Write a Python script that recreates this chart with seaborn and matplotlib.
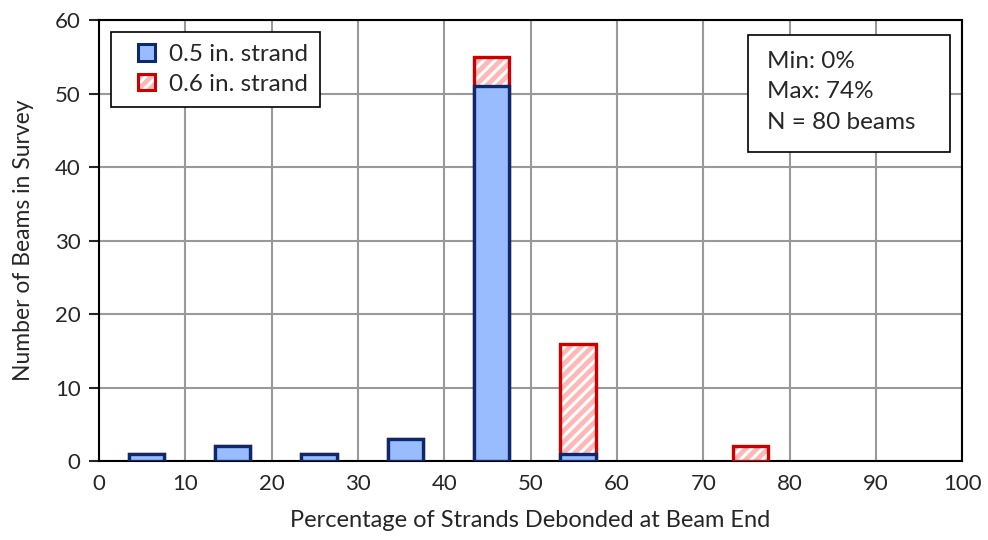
import matplotlib
matplotlib.use("Agg")
import matplotlib.pyplot as plt
import seaborn as sns
import pandas as pd
from matplotlib.patches import Patch, Rectangle
from matplotlib.legend_handler import HandlerTuple, HandlerPatch

# percentage of strands debonded (bar positions) and beam counts
pct = [5.5, 15.5, 25.5, 35.5, 45.5, 55.5, 75.5]
n_05 = [1, 2, 1, 3, 51, 1, 0]
n_06 = [0, 0, 0, 0, 4, 15, 2]

df = pd.DataFrame({"pct": pct, "s05": n_05, "s06": n_06})
df["total"] = df["s05"] + df["s06"]

sns.set_theme(style="white")
plt.rcParams["font.family"] = ["Lato", "DejaVu Sans"]
plt.rcParams["hatch.linewidth"] = 2.2

blue_face = "#99bbff"
blue_edge = "#0b2a6e"
red_face = "#ffb8b8"
red_edge = "#cc0000"

fig, ax = plt.subplots(figsize=(9.88, 5.4), dpi=100)

# stacked total (red, hatched) drawn first, blue 0.5 in. bars on top
sns.barplot(data=df, x="pct", y="total", native_scale=True, width=0.41,
            color=red_face, saturation=1, edgecolor="white", hatch="///",
            linewidth=0, ax=ax, zorder=3)
sns.barplot(data=df, x="pct", y="total", native_scale=True, width=0.41,
            color="none", saturation=1, edgecolor=red_edge, fill=False,
            linewidth=2.4, ax=ax, zorder=4)
d05 = df[df["s05"] > 0]
sns.barplot(data=d05, x="pct", y="s05", native_scale=True, width=0.41,
            color=blue_face, saturation=1, edgecolor=blue_edge,
            linewidth=2.4, ax=ax, zorder=5)

ax.set_xlim(0, 100)
ax.set_ylim(0, 60)
ax.set_xticks(range(0, 101, 10))
ax.set_yticks(range(0, 61, 10))
ax.grid(True, color="#999999", linewidth=1.5, zorder=0)
ax.set_axisbelow(True)
for s in ax.spines.values():
    s.set_color("black")
    s.set_linewidth(1.5)
ax.tick_params(axis="x", length=0, labelsize=16, pad=9)
ax.tick_params(axis="y", length=7, width=1.5, direction="out", labelsize=16, left=True, pad=6)
ax.set_xlabel("Percentage of Strands Debonded at Beam End", fontsize=17, labelpad=12)
ax.set_ylabel("Number of Beams in Survey", fontsize=16.5, labelpad=15)


def square(legend, orig_handle, xdescent, ydescent, width, height, fontsize):
    # small square at the right end of the handle box
    return Rectangle((-xdescent + width - height, -ydescent), height, height)


h06 = (Patch(facecolor=red_face, edgecolor="white", linewidth=0, hatch="///"),
       Patch(fill=False, edgecolor=red_edge, linewidth=2.2))
handles = [
    Patch(facecolor=blue_face, edgecolor=blue_edge, linewidth=2.2),
    h06,
]
leg = ax.legend(handles=handles, labels=["0.5 in. strand", "0.6 in. strand"],
                handler_map={tuple: HandlerTuple(ndivide=1, pad=0),
                             Patch: HandlerPatch(patch_func=square)},
                loc="upper left", bbox_to_anchor=(0.014, 0.973),
                fontsize=17.5, handlelength=1.3, handleheight=0.68, handletextpad=0.6,
                labelspacing=0.35, borderpad=0.5, borderaxespad=0,
                fancybox=False, framealpha=1, edgecolor="black")
leg.get_frame().set_linewidth(1.2)
leg.set_zorder(10)

ax.add_patch(Rectangle((0.752, 0.701), 0.234, 0.265, transform=ax.transAxes,
                       facecolor="white", edgecolor="black", linewidth=1.2, zorder=9))
ax.text(0.774, 0.93, "Min: 0%\nMax: 74%\nN = 80 beams", transform=ax.transAxes,
        fontsize=17.5, va="top", ha="left", linespacing=1.55, zorder=10)

fig.subplots_adjust(left=0.1, right=0.974, top=0.963, bottom=0.146)
fig.savefig("out.png", dpi=100)
